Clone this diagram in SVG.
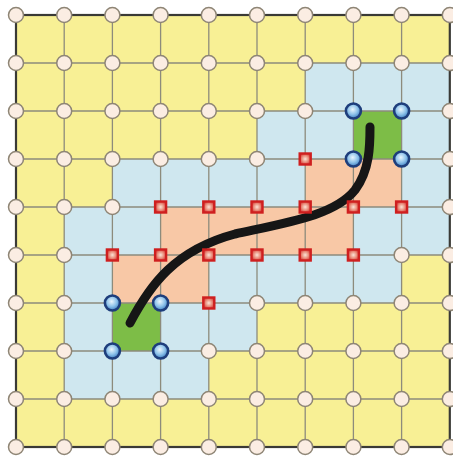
<svg xmlns="http://www.w3.org/2000/svg" width="453" height="460" viewBox="0 0 453 460">
<defs>
<radialGradient id="gb" cx="0.45" cy="0.4" r="0.6">
<stop offset="0" stop-color="#eaf5fc"/><stop offset="0.55" stop-color="#8fc3ea"/><stop offset="1" stop-color="#3f7fc2"/>
</radialGradient>
<radialGradient id="gr" cx="0.5" cy="0.5" r="0.6">
<stop offset="0" stop-color="#fbe3d6"/><stop offset="0.5" stop-color="#e98f7d"/><stop offset="1" stop-color="#d42a2a"/>
</radialGradient>
<style>
.y{fill:#f8f095}.b{fill:#cfe7ef}.o{fill:#f8c8a6}.g{fill:#7dbd47}
.grid line{stroke:#8d8b7c;stroke-width:1.3}
.n{fill:#fbede3;stroke:#8e8575;stroke-width:1.5}
.bl{fill:url(#gb);stroke:#1e3e7c;stroke-width:2.6}
.rd{fill:url(#gr);stroke:#cf1f1f;stroke-width:2.4}
</style>
</defs>
<rect width="453" height="460" fill="#ffffff"/>
<g id="cells">
<rect class="y" x="16" y="15" width="433.8" height="432"/>
<rect class="b" x="305.2" y="63" width="144.6" height="48"/>
<rect class="b" x="257" y="111" width="96.4" height="48"/>
<rect class="b" x="401.6" y="111" width="48.2" height="48"/>
<rect class="b" x="112.4" y="159" width="192.8" height="48"/>
<rect class="b" x="401.6" y="159" width="48.2" height="48"/>
<rect class="b" x="64.2" y="207" width="96.4" height="48"/>
<rect class="b" x="353.4" y="207" width="96.4" height="48"/>
<rect class="b" x="64.2" y="255" width="48.2" height="48"/>
<rect class="b" x="208.8" y="255" width="192.8" height="48"/>
<rect class="b" x="64.2" y="303" width="48.2" height="48"/>
<rect class="b" x="160.6" y="303" width="96.4" height="48"/>
<rect class="b" x="64.2" y="351" width="144.6" height="48"/>
<rect class="o" x="305.2" y="159" width="96.4" height="48"/>
<rect class="o" x="160.6" y="207" width="192.8" height="48"/>
<rect class="o" x="112.4" y="255" width="96.4" height="48"/>
<rect class="g" x="353.4" y="111" width="48.2" height="48"/>
<rect class="g" x="112.4" y="303" width="48.2" height="48"/>
</g>
<g id="connectors" class="grid">
<line x1="64.2" y1="15" x2="64.2" y2="447"/>
<line x1="112.4" y1="15" x2="112.4" y2="447"/>
<line x1="160.6" y1="15" x2="160.6" y2="447"/>
<line x1="208.8" y1="15" x2="208.8" y2="447"/>
<line x1="257" y1="15" x2="257" y2="447"/>
<line x1="305.2" y1="15" x2="305.2" y2="447"/>
<line x1="353.4" y1="15" x2="353.4" y2="447"/>
<line x1="401.6" y1="15" x2="401.6" y2="447"/>
<line x1="16" y1="63" x2="449.8" y2="63"/>
<line x1="16" y1="111" x2="449.8" y2="111"/>
<line x1="16" y1="159" x2="449.8" y2="159"/>
<line x1="16" y1="207" x2="449.8" y2="207"/>
<line x1="16" y1="255" x2="449.8" y2="255"/>
<line x1="16" y1="303" x2="449.8" y2="303"/>
<line x1="16" y1="351" x2="449.8" y2="351"/>
<line x1="16" y1="399" x2="449.8" y2="399"/>
<rect x="16" y="15" width="433.8" height="432" fill="none" stroke="#3a3a36" stroke-width="2.2"/>
</g>
<g id="curve">
<path d="M130,323 C150,285 175,250 235,234 C290,222 335,215 355,190 C370,170 370,145 370,127" fill="none" stroke="#161616" stroke-width="9" stroke-linecap="round"/>
</g>
<g id="nodes">
<g id="row0">
<circle class="n" cx="16" cy="15" r="7.5"/><circle class="n" cx="64.2" cy="15" r="7.5"/><circle class="n" cx="112.4" cy="15" r="7.5"/><circle class="n" cx="160.6" cy="15" r="7.5"/><circle class="n" cx="208.8" cy="15" r="7.5"/><circle class="n" cx="257" cy="15" r="7.5"/><circle class="n" cx="305.2" cy="15" r="7.5"/><circle class="n" cx="353.4" cy="15" r="7.5"/><circle class="n" cx="401.6" cy="15" r="7.5"/><circle class="n" cx="449.8" cy="15" r="7.5"/>
</g>
<g id="row1">
<circle class="n" cx="16" cy="63" r="7.5"/><circle class="n" cx="64.2" cy="63" r="7.5"/><circle class="n" cx="112.4" cy="63" r="7.5"/><circle class="n" cx="160.6" cy="63" r="7.5"/><circle class="n" cx="208.8" cy="63" r="7.5"/><circle class="n" cx="257" cy="63" r="7.5"/><circle class="n" cx="305.2" cy="63" r="7.5"/><circle class="n" cx="353.4" cy="63" r="7.5"/><circle class="n" cx="401.6" cy="63" r="7.5"/><circle class="n" cx="449.8" cy="63" r="7.5"/>
</g>
<g id="row2">
<circle class="n" cx="16" cy="111" r="7.5"/><circle class="n" cx="64.2" cy="111" r="7.5"/><circle class="n" cx="112.4" cy="111" r="7.5"/><circle class="n" cx="160.6" cy="111" r="7.5"/><circle class="n" cx="208.8" cy="111" r="7.5"/><circle class="n" cx="257" cy="111" r="7.5"/><circle class="n" cx="305.2" cy="111" r="7.5"/><circle class="bl" cx="353.4" cy="111" r="7.5"/><circle class="bl" cx="401.6" cy="111" r="7.5"/><circle class="n" cx="449.8" cy="111" r="7.5"/>
</g>
<g id="row3">
<circle class="n" cx="16" cy="159" r="7.5"/><circle class="n" cx="64.2" cy="159" r="7.5"/><circle class="n" cx="112.4" cy="159" r="7.5"/><circle class="n" cx="160.6" cy="159" r="7.5"/><circle class="n" cx="208.8" cy="159" r="7.5"/><circle class="n" cx="257" cy="159" r="7.5"/><rect class="rd" x="299.7" y="153.5" width="11" height="11"/><circle class="bl" cx="353.4" cy="159" r="7.5"/><circle class="bl" cx="401.6" cy="159" r="7.5"/><circle class="n" cx="449.8" cy="159" r="7.5"/>
</g>
<g id="row4">
<circle class="n" cx="16" cy="207" r="7.5"/><circle class="n" cx="64.2" cy="207" r="7.5"/><circle class="n" cx="112.4" cy="207" r="7.5"/><rect class="rd" x="155.1" y="201.5" width="11" height="11"/><rect class="rd" x="203.3" y="201.5" width="11" height="11"/><rect class="rd" x="251.5" y="201.5" width="11" height="11"/><rect class="rd" x="299.7" y="201.5" width="11" height="11"/><rect class="rd" x="347.9" y="201.5" width="11" height="11"/><rect class="rd" x="396.1" y="201.5" width="11" height="11"/><circle class="n" cx="449.8" cy="207" r="7.5"/>
</g>
<g id="row5">
<circle class="n" cx="16" cy="255" r="7.5"/><circle class="n" cx="64.2" cy="255" r="7.5"/><rect class="rd" x="106.9" y="249.5" width="11" height="11"/><rect class="rd" x="155.1" y="249.5" width="11" height="11"/><rect class="rd" x="203.3" y="249.5" width="11" height="11"/><rect class="rd" x="251.5" y="249.5" width="11" height="11"/><rect class="rd" x="299.7" y="249.5" width="11" height="11"/><rect class="rd" x="347.9" y="249.5" width="11" height="11"/><circle class="n" cx="401.6" cy="255" r="7.5"/><circle class="n" cx="449.8" cy="255" r="7.5"/>
</g>
<g id="row6">
<circle class="n" cx="16" cy="303" r="7.5"/><circle class="n" cx="64.2" cy="303" r="7.5"/><circle class="bl" cx="112.4" cy="303" r="7.5"/><circle class="bl" cx="160.6" cy="303" r="7.5"/><rect class="rd" x="203.3" y="297.5" width="11" height="11"/><circle class="n" cx="257" cy="303" r="7.5"/><circle class="n" cx="305.2" cy="303" r="7.5"/><circle class="n" cx="353.4" cy="303" r="7.5"/><circle class="n" cx="401.6" cy="303" r="7.5"/><circle class="n" cx="449.8" cy="303" r="7.5"/>
</g>
<g id="row7">
<circle class="n" cx="16" cy="351" r="7.5"/><circle class="n" cx="64.2" cy="351" r="7.5"/><circle class="bl" cx="112.4" cy="351" r="7.5"/><circle class="bl" cx="160.6" cy="351" r="7.5"/><circle class="n" cx="208.8" cy="351" r="7.5"/><circle class="n" cx="257" cy="351" r="7.5"/><circle class="n" cx="305.2" cy="351" r="7.5"/><circle class="n" cx="353.4" cy="351" r="7.5"/><circle class="n" cx="401.6" cy="351" r="7.5"/><circle class="n" cx="449.8" cy="351" r="7.5"/>
</g>
<g id="row8">
<circle class="n" cx="16" cy="399" r="7.5"/><circle class="n" cx="64.2" cy="399" r="7.5"/><circle class="n" cx="112.4" cy="399" r="7.5"/><circle class="n" cx="160.6" cy="399" r="7.5"/><circle class="n" cx="208.8" cy="399" r="7.5"/><circle class="n" cx="257" cy="399" r="7.5"/><circle class="n" cx="305.2" cy="399" r="7.5"/><circle class="n" cx="353.4" cy="399" r="7.5"/><circle class="n" cx="401.6" cy="399" r="7.5"/><circle class="n" cx="449.8" cy="399" r="7.5"/>
</g>
<g id="row9">
<circle class="n" cx="16" cy="447" r="7.5"/><circle class="n" cx="64.2" cy="447" r="7.5"/><circle class="n" cx="112.4" cy="447" r="7.5"/><circle class="n" cx="160.6" cy="447" r="7.5"/><circle class="n" cx="208.8" cy="447" r="7.5"/><circle class="n" cx="257" cy="447" r="7.5"/><circle class="n" cx="305.2" cy="447" r="7.5"/><circle class="n" cx="353.4" cy="447" r="7.5"/><circle class="n" cx="401.6" cy="447" r="7.5"/><circle class="n" cx="449.8" cy="447" r="7.5"/>
</g>
</g>
</svg>
